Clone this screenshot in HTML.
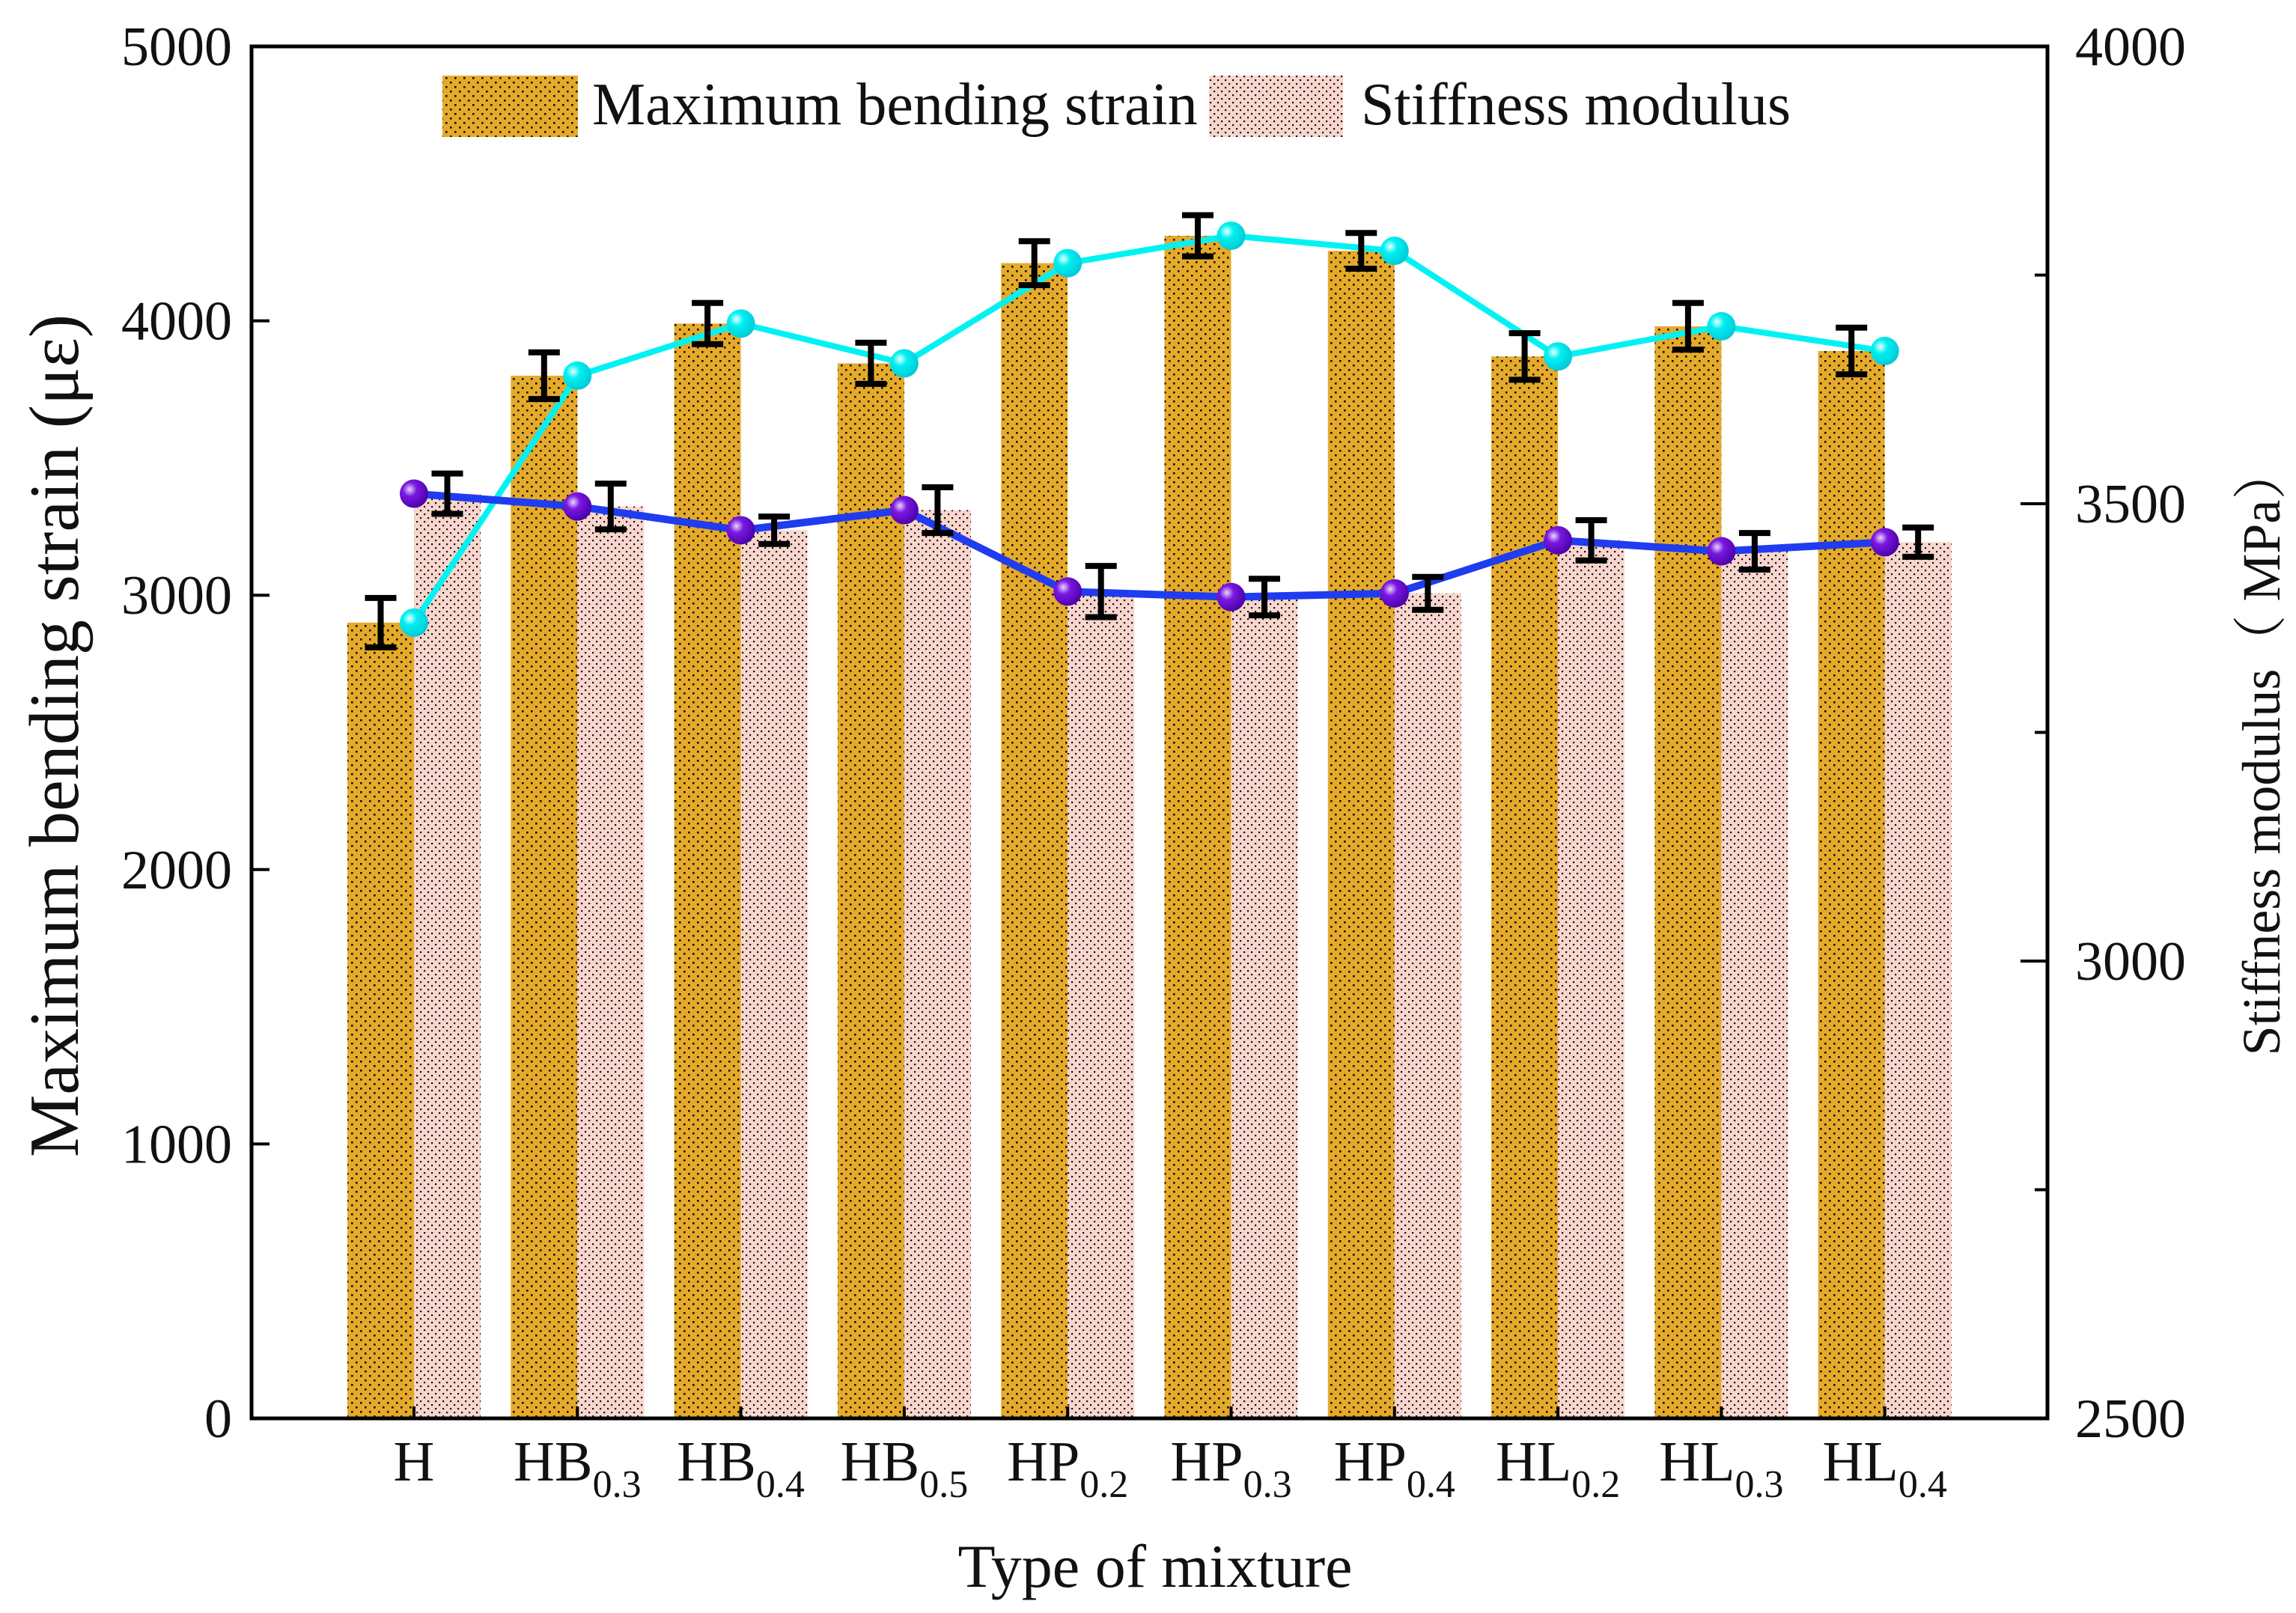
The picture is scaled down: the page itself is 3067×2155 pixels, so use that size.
<!DOCTYPE html>
<html><head><meta charset="utf-8"><style>
html,body{margin:0;padding:0;background:#fff;}
svg{display:block;font-family:"Liberation Serif","Noto Serif CJK SC",serif;}
</style></head><body>
<svg id="chart" width="3067" height="2155" viewBox="0 0 3067 2155" xmlns="http://www.w3.org/2000/svg">
<defs>
<pattern id="dotsO" width="12" height="12" patternUnits="userSpaceOnUse"><rect width="12" height="12" fill="#e5aa2a"/><rect x="1" y="1" width="2.6" height="2.6" fill="#111"/><rect x="7" y="7" width="2.6" height="2.6" fill="#111"/></pattern>
<pattern id="dotsP" width="10" height="10" patternUnits="userSpaceOnUse"><rect width="10" height="10" fill="#f9d6cd"/><rect x="1" y="1" width="2.2" height="2.2" fill="#111"/><rect x="6" y="6" width="2.2" height="2.2" fill="#111"/></pattern>
<radialGradient id="gC" cx="0.35" cy="0.35" r="0.7"><stop offset="0" stop-color="#e8ffff"/><stop offset="0.35" stop-color="#00f0f0"/><stop offset="1" stop-color="#00c8d8"/></radialGradient>
<radialGradient id="gP" cx="0.35" cy="0.35" r="0.7"><stop offset="0" stop-color="#e8d8ff"/><stop offset="0.35" stop-color="#7a18e0"/><stop offset="1" stop-color="#4a00a8"/></radialGradient>
</defs>
<g id="plot"></g>
</svg>
<script>
const categories = ["H","HB","HB","HB","HP","HP","HP","HL","HL","HL"];
const subscripts = ["","0.3","0.4","0.5","0.2","0.3","0.4","0.2","0.3","0.4"];
const strain = [2900,3800,3990,3845,4210,4310,4255,3870,3980,3890];
const strainErr = [90,85,75,75,80,75,65,85,85,85];
const stiffness = [3511,3497,3471,3493,3404,3398,3402,3460,3448,3458];
const stiffErr = [22,25,15,25,28,20,18,22,20,16];
const leftTicks = [0,1000,2000,3000,4000,5000];
const rightTicks = [2500,3000,3500,4000];
const rightMinor = [2750,3250,3750];

const NS="http://www.w3.org/2000/svg";
const g=document.getElementById('plot');
const X0=336,X1=2735,Y0=1895,Y1=62;
const step=218.3, first=553, bw=89;
function xc(i){return first+i*step;}
function yL(v){return Y0-(v-0)/5000*(Y0-Y1);}
function yR(v){return Y0-(v-2500)/1500*(Y0-Y1);}
function mk(tag,attrs,parent){const e=document.createElementNS(NS,tag);for(const k in attrs)e.setAttribute(k,attrs[k]);(parent||g).appendChild(e);return e;}

strain.forEach((v,i)=>{
  const r=mk('rect',{x:xc(i)-bw,y:yL(v),width:bw,height:Y0-yL(v),fill:'url(#dotsO)'});
  
  
});
stiffness.forEach((v,i)=>{
  const r=mk('rect',{x:xc(i),y:yR(v),width:bw,height:Y0-yR(v),fill:'url(#dotsP)'});
  
  
});
function line(vals,yf,color,w,name){
  const pts=vals.map((v,i)=>xc(i)+','+yf(v)).join(' ');
  const p=mk('polyline',{points:pts,fill:'none',stroke:color,'stroke-width':w,'stroke-linejoin':'round'});
  
  
}
line(strain,yL,'#00f2f2',8,'strain-line');
line(stiffness,yR,'#1f3cf0',10,'stiffness-line');
function err(cx,yt,yb,name){
  const e=mk('g',{stroke:'#000','stroke-width':8});
  
  
  mk('line',{x1:cx,x2:cx,y1:yt,y2:yb},e);
  mk('line',{x1:cx-21,x2:cx+21,y1:yt,y2:yt},e);
  mk('line',{x1:cx-21,x2:cx+21,y1:yb,y2:yb},e);
}
strain.forEach((v,i)=>err(xc(i)-bw/2,yL(v+strainErr[i]),yL(v-strainErr[i]),'strain-error-'+i));
stiffness.forEach((v,i)=>err(xc(i)+bw/2,yR(v+stiffErr[i]),yR(v-stiffErr[i]),'stiffness-error-'+i));
strain.forEach((v,i)=>{
  const c=mk('circle',{cx:xc(i),cy:yL(v),r:19,fill:'url(#gC)'});
  
  
});
stiffness.forEach((v,i)=>{
  const c=mk('circle',{cx:xc(i),cy:yR(v),r:19,fill:'url(#gP)'});
  
  
});
const fr=mk('rect',{x:X0,y:Y1,width:X1-X0,height:Y0-Y1,fill:'none',stroke:'#000','stroke-width':5});


leftTicks.forEach(t=>{
  const y=yL(t);
  mk('line',{x1:X0,x2:X0+24,y1:y,y2:y,stroke:'#000','stroke-width':4});
  const tx=mk('text',{x:310,y:y+25,'text-anchor':'end','font-size':74,fill:'#111'});
  tx.textContent=t;
  
  
});
rightTicks.forEach(t=>{
  const y=yR(t);
  mk('line',{x1:X1-36,x2:X1,y1:y,y2:y,stroke:'#000','stroke-width':4});
  const tx=mk('text',{x:2772,y:y+25,'font-size':74,fill:'#111'});
  tx.textContent=t;
  
  
});
rightMinor.forEach(t=>{const y=yR(t);mk('line',{x1:X1-17,x2:X1,y1:y,y2:y,stroke:'#000','stroke-width':4});});
categories.forEach((c,i)=>{
  const x=xc(i);
  mk('line',{x1:x,x2:x,y1:Y0,y2:Y0-16,stroke:'#000','stroke-width':4});
  const tx=mk('text',{x:x,y:1978,'text-anchor':'middle','font-size':76,fill:'#111'});
  
  
  tx.appendChild(document.createTextNode(c));
  if(subscripts[i]){const s=mk('tspan',{'font-size':52,dy:22},tx);s.textContent=subscripts[i];}
});
</script>
<svg style="position:absolute;left:0;top:0" width="3067" height="2155" xmlns="http://www.w3.org/2000/svg" font-family="Liberation Serif, Noto Serif CJK SC, serif">
<text x="1543" y="2120" text-anchor="middle" font-size="82" fill="#111">Type of mixture</text>
<text transform="translate(104,983) rotate(-90)" text-anchor="middle" font-size="94" fill="#111">Maximum bending strain (με)</text>
<text transform="translate(3045,1003) rotate(-90)" text-anchor="middle" font-size="72" fill="#111">Stiffness modulus（ MPa）</text>
<g>
<rect x="591" y="101" width="181" height="82" fill="url(#dotsO)"/>
<text x="791" y="166" font-size="80" fill="#111">Maximum bending strain</text>
<rect x="1615" y="101" width="179" height="82" fill="url(#dotsP)"/>
<text x="1818" y="166" font-size="80" fill="#111">Stiffness modulus</text>
</g>
</svg>
</body></html>
